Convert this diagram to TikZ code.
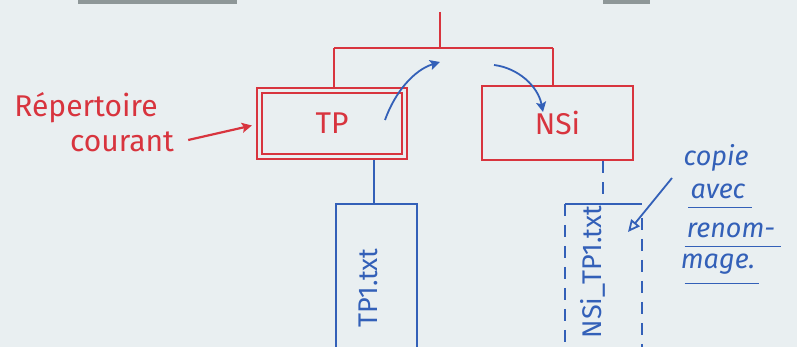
\documentclass[tikz,border=0pt]{standalone}
\usepackage{fontspec}
\setmainfont{Fira Sans}
\usetikzlibrary{arrows.meta}
\definecolor{bgc}{HTML}{E9EFF1}
\definecolor{penred}{HTML}{D8343E}
\definecolor{penblue}{HTML}{3360B8}
\definecolor{bargray}{HTML}{8E9798}
\tikzset{
  redline/.style={draw=penred,line width=2.2pt},
  blueline/.style={draw=penblue,line width=1.8pt},
  bluedash/.style={blueline,dash pattern=on 12pt off 9pt},
  redarrow/.style={redline,-{Stealth[length=10pt,width=10pt,inset=2pt]}},
  bluearrow/.style={blueline,-{Stealth[length=10pt,width=10pt,inset=2pt]}},
  dirbox/.style={redline,minimum width=151pt,minimum height=74pt,inner sep=0pt,
     text=penred,font=\fontsize{30}{32}\selectfont},
  filebox/.style={minimum height=176pt,inner sep=0pt},
  redtext/.style={text=penred,font=\fontsize{30}{32}\selectfont,inner sep=0pt},
  bluetext/.style={text=penblue,font=\fontsize{27}{29}\selectfont\itshape,inner sep=0pt},
  filetext/.style={text=penblue,font=\fontsize{27}{29}\selectfont,rotate=90,inner sep=0pt}
}
\begin{document}
\begin{tikzpicture}[x=1pt,y=-1pt]
\fill[bgc] (0,0) rectangle (797,347);
\useasboundingbox (0,0) rectangle (797,347);
\clip (0,0) rectangle (797,347);
% partial grey bars at the top edge
\fill[bargray] (78,0) rectangle (237,4);
\fill[bargray] (603,0) rectangle (650,4);
% tree
\coordinate (root) at (440,12);
\coordinate (fork) at (440,48);
\coordinate (bl) at (334,48);
\coordinate (br) at (553,48);
\node[dirbox,minimum width=150pt,minimum height=71pt] (tp) at (332,123.5) {TP};
\draw[redline] ([xshift=6pt,yshift=-6pt]tp.north west) rectangle ([xshift=-6pt,yshift=6pt]tp.south east);
\node[dirbox] (nsi) at (557.5,123) {NSi};
\draw[redline] (root) -- (fork);
\draw[redline] (bl) -- (br);
\draw[redline] (bl) -- (bl |- tp.north);
\draw[redline] (br) -- (br |- nsi.north);
% moving arrows
\coordinate (a1s) at (385,120);
\coordinate (a1e) at (440,62);
\coordinate (a2s) at (494,65);
\coordinate (a2e) at (543,112);
\draw[bluearrow] (a1s) .. controls (395,92) and (414,70) .. (a1e);
\draw[bluearrow] (a2s) .. controls (518,68) and (538,86) .. (a2e);
% current directory label
\node[redtext] (rc1) at (86,108) {Répertoire};
\node[redtext] (rc2) at (122,142) {courant};
\draw[redarrow] ([xshift=14pt,yshift=2pt]rc2.east) -- ([xshift=-4pt,yshift=-2pt]tp.west);
% file TP1.txt
\node[filebox,draw=penblue,line width=1.8pt,minimum width=81pt] (f1) at (376.5,292) {};
\node[filetext] (t1) at (368,288) {TP1.txt};
\coordinate (x1) at (374,0);
\draw[blueline] (x1 |- tp.south) -- (x1 |- f1.north);
% copied file NSi_TP1.txt
\node[filebox,minimum width=77pt] (f2) at (603.5,292) {};
\node[filetext] (t2) at (593,272) {NSi\_TP1.txt};
\draw[blueline] (f2.north west) -- (f2.north east);
\draw[bluedash] (f2.north west) -- (f2.south west);
\draw[bluedash] ([yshift=-14pt]f2.north east) -- (f2.south east);
\coordinate (x2) at (603,0);
\draw[bluedash] (x2 |- nsi.south) -- (x2 |- f2.north);
% copy note
\node[bluetext] (cp) at (716,158) {copie};
\node[bluetext] (av) at (718,191) {avec};
\node[bluetext] (rn) at (731,230) {renom-};
\node[bluetext] (mg) at (718,264) {mage.};
\draw[blueline,line width=1.3pt] ([xshift=-2pt,yshift=-9pt]av.south west) -- ([xshift=6pt,yshift=-9pt]av.south east);
\draw[blueline,line width=1.3pt] ([xshift=-2pt,yshift=-9pt]rn.south west) -- ([xshift=6pt,yshift=-9pt]rn.south east);
\draw[blueline,line width=1.3pt] ([xshift=4pt,yshift=-9pt]mg.south west) -- ([xshift=4pt,yshift=-9pt]mg.south east);
\coordinate (a3s) at (672,178);
\coordinate (a3e) at (628,232);
\draw[blueline,-{Triangle[open,length=12pt,width=11pt]}] (a3s) -- (a3e);
\end{tikzpicture}
\end{document}
